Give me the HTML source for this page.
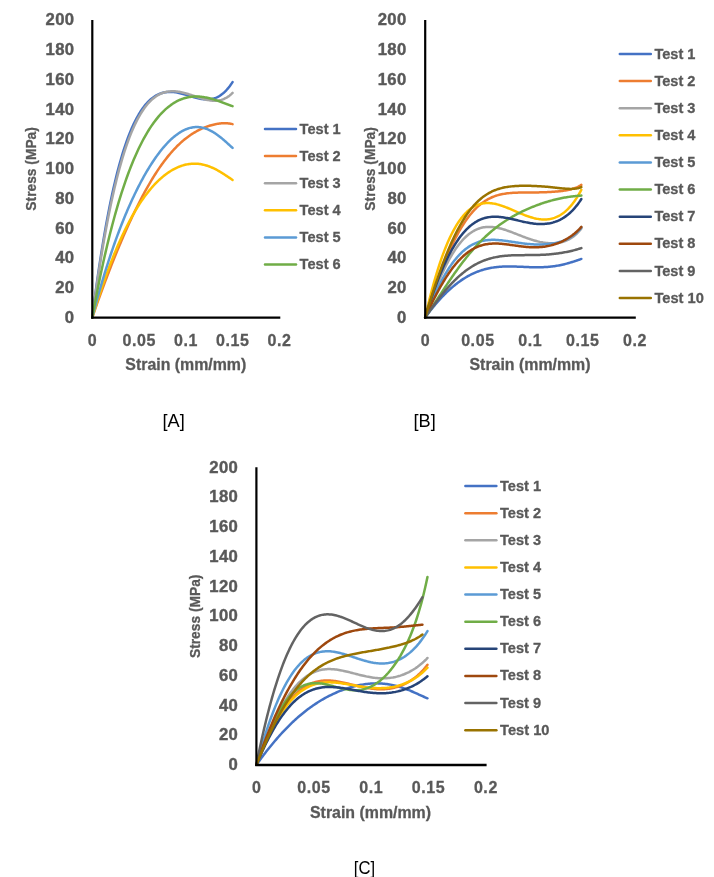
<!DOCTYPE html>
<html><head><meta charset="utf-8"><style>
html,body{margin:0;padding:0;background:#fff;}
svg{display:block;will-change:transform}
text{font-family:"Liberation Sans",sans-serif;fill:#595959;}
.yt{font-size:16.7px;font-weight:bold;letter-spacing:0.35px;stroke:#595959;stroke-width:0.4px;}
.xt{font-size:16px;font-weight:bold;letter-spacing:0.6px;stroke:#595959;stroke-width:0.3px;}
.xl{font-size:16px;font-weight:bold;stroke:#595959;stroke-width:0.3px;}
.yl{font-size:15px;font-weight:bold;stroke:#595959;stroke-width:0.3px;}
.lg{font-size:15.3px;font-weight:bold;stroke:#595959;stroke-width:0.3px;}
.tag{font-size:18.2px;fill:#000;}
</style></head><body>
<svg width="714" height="877" viewBox="0 0 714 877">
<rect width="714" height="877" fill="#fff"/>
<path d="M92.30,317.40 L93.31,309.43 L94.32,301.66 L95.33,294.09 L96.34,286.72 L97.34,279.54 L98.35,272.55 L99.36,265.74 L100.37,259.12 L101.38,252.68 L102.39,246.42 L103.40,240.33 L104.41,234.41 L105.42,228.66 L106.43,223.08 L107.43,217.65 L108.44,212.39 L109.45,207.28 L110.46,202.32 L111.47,197.52 L112.48,192.86 L113.49,188.34 L114.50,183.97 L115.51,179.73 L116.52,175.63 L117.52,171.66 L118.53,167.82 L119.54,164.11 L120.55,160.53 L121.56,157.06 L122.57,153.72 L123.58,150.49 L124.59,147.38 L125.60,144.38 L126.61,141.49 L127.61,138.70 L128.62,136.02 L129.63,133.45 L130.64,130.97 L131.65,128.59 L132.66,126.31 L133.67,124.12 L134.68,122.02 L135.69,120.01 L136.70,118.09 L137.70,116.26 L138.71,114.50 L139.72,112.83 L140.73,111.24 L141.74,109.73 L142.75,108.29 L143.76,106.92 L144.77,105.63 L145.78,104.41 L146.79,103.25 L147.79,102.16 L148.80,101.14 L149.81,100.18 L150.82,99.28 L151.83,98.45 L152.84,97.67 L153.85,96.94 L154.86,96.28 L155.87,95.66 L156.88,95.10 L157.88,94.59 L158.89,94.13 L159.90,93.72 L160.91,93.35 L161.92,93.03 L162.93,92.75 L163.94,92.51 L164.95,92.31 L165.96,92.15 L166.97,92.03 L167.97,91.95 L168.98,91.90 L169.99,91.88 L171.00,91.89 L172.01,91.93 L173.02,92.01 L174.03,92.10 L175.04,92.23 L176.05,92.38 L177.06,92.55 L178.06,92.74 L179.07,92.95 L180.08,93.17 L181.09,93.42 L182.10,93.67 L183.11,93.94 L184.12,94.22 L185.13,94.51 L186.14,94.81 L187.15,95.11 L188.15,95.42 L189.16,95.73 L190.17,96.04 L191.18,96.35 L192.19,96.65 L193.20,96.95 L194.21,97.24 L195.22,97.52 L196.23,97.79 L197.24,98.05 L198.24,98.29 L199.25,98.51 L200.26,98.71 L201.27,98.90 L202.28,99.05 L203.29,99.19 L204.30,99.29 L205.31,99.36 L206.32,99.41 L207.33,99.41 L208.33,99.38 L209.34,99.31 L210.35,99.20 L211.36,99.05 L212.37,98.84 L213.38,98.60 L214.39,98.30 L215.40,97.95 L216.41,97.54 L217.42,97.08 L218.42,96.56 L219.43,95.97 L220.44,95.33 L221.45,94.62 L222.46,93.84 L223.47,93.00 L224.48,92.09 L225.49,91.10 L226.50,90.04 L227.51,88.91 L228.51,87.69 L229.52,86.41 L230.53,85.04 L231.54,83.59 L232.55,82.07" fill="none" stroke="#4472C4" stroke-width="2.5" stroke-linecap="round" stroke-linejoin="round"/>
<path d="M92.30,317.40 L93.31,314.47 L94.32,311.56 L95.33,308.67 L96.34,305.80 L97.34,302.95 L98.35,300.12 L99.36,297.32 L100.37,294.53 L101.38,291.76 L102.39,289.01 L103.40,286.28 L104.41,283.57 L105.42,280.88 L106.43,278.21 L107.43,275.56 L108.44,272.93 L109.45,270.32 L110.46,267.73 L111.47,265.16 L112.48,262.60 L113.49,260.07 L114.50,257.56 L115.51,255.07 L116.52,252.59 L117.52,250.14 L118.53,247.71 L119.54,245.29 L120.55,242.90 L121.56,240.53 L122.57,238.18 L123.58,235.85 L124.59,233.54 L125.60,231.25 L126.61,228.98 L127.61,226.73 L128.62,224.51 L129.63,222.30 L130.64,220.12 L131.65,217.96 L132.66,215.82 L133.67,213.71 L134.68,211.62 L135.69,209.55 L136.70,207.50 L137.70,205.47 L138.71,203.47 L139.72,201.50 L140.73,199.54 L141.74,197.61 L142.75,195.71 L143.76,193.82 L144.77,191.97 L145.78,190.13 L146.79,188.33 L147.79,186.54 L148.80,184.79 L149.81,183.06 L150.82,181.35 L151.83,179.67 L152.84,178.01 L153.85,176.38 L154.86,174.78 L155.87,173.21 L156.88,171.65 L157.88,170.13 L158.89,168.63 L159.90,167.16 L160.91,165.72 L161.92,164.30 L162.93,162.91 L163.94,161.55 L164.95,160.21 L165.96,158.90 L166.97,157.62 L167.97,156.36 L168.98,155.13 L169.99,153.93 L171.00,152.75 L172.01,151.60 L173.02,150.48 L174.03,149.38 L175.04,148.31 L176.05,147.26 L177.06,146.24 L178.06,145.25 L179.07,144.28 L180.08,143.34 L181.09,142.42 L182.10,141.53 L183.11,140.66 L184.12,139.82 L185.13,139.00 L186.14,138.20 L187.15,137.43 L188.15,136.68 L189.16,135.96 L190.17,135.25 L191.18,134.57 L192.19,133.91 L193.20,133.28 L194.21,132.66 L195.22,132.07 L196.23,131.49 L197.24,130.94 L198.24,130.41 L199.25,129.89 L200.26,129.40 L201.27,128.93 L202.28,128.47 L203.29,128.04 L204.30,127.62 L205.31,127.22 L206.32,126.84 L207.33,126.48 L208.33,126.13 L209.34,125.81 L210.35,125.50 L211.36,125.21 L212.37,124.94 L213.38,124.69 L214.39,124.45 L215.40,124.24 L216.41,124.04 L217.42,123.86 L218.42,123.71 L219.43,123.57 L220.44,123.45 L221.45,123.36 L222.46,123.29 L223.47,123.24 L224.48,123.22 L225.49,123.23 L226.50,123.26 L227.51,123.32 L228.51,123.41 L229.52,123.53 L230.53,123.69 L231.54,123.88 L232.55,124.11" fill="none" stroke="#ED7D31" stroke-width="2.5" stroke-linecap="round" stroke-linejoin="round"/>
<path d="M92.30,317.40 L93.31,309.85 L94.32,302.47 L95.33,295.26 L96.34,288.23 L97.34,281.36 L98.35,274.66 L99.36,268.12 L100.37,261.74 L101.38,255.52 L102.39,249.45 L103.40,243.54 L104.41,237.79 L105.42,232.18 L106.43,226.72 L107.43,221.41 L108.44,216.24 L109.45,211.20 L110.46,206.31 L111.47,201.56 L112.48,196.94 L113.49,192.45 L114.50,188.09 L115.51,183.86 L116.52,179.76 L117.52,175.77 L118.53,171.92 L119.54,168.17 L120.55,164.55 L121.56,161.04 L122.57,157.65 L123.58,154.36 L124.59,151.19 L125.60,148.12 L126.61,145.16 L127.61,142.30 L128.62,139.54 L129.63,136.88 L130.64,134.31 L131.65,131.85 L132.66,129.47 L133.67,127.19 L134.68,124.99 L135.69,122.89 L136.70,120.86 L137.70,118.93 L138.71,117.07 L139.72,115.30 L140.73,113.60 L141.74,111.98 L142.75,110.44 L143.76,108.97 L144.77,107.57 L145.78,106.24 L146.79,104.98 L147.79,103.79 L148.80,102.66 L149.81,101.60 L150.82,100.60 L151.83,99.65 L152.84,98.77 L153.85,97.95 L154.86,97.18 L155.87,96.46 L156.88,95.80 L157.88,95.19 L158.89,94.63 L159.90,94.12 L160.91,93.66 L161.92,93.24 L162.93,92.87 L163.94,92.54 L164.95,92.25 L165.96,92.00 L166.97,91.79 L167.97,91.62 L168.98,91.48 L169.99,91.38 L171.00,91.32 L172.01,91.28 L173.02,91.28 L174.03,91.31 L175.04,91.36 L176.05,91.44 L177.06,91.55 L178.06,91.68 L179.07,91.84 L180.08,92.02 L181.09,92.21 L182.10,92.43 L183.11,92.66 L184.12,92.91 L185.13,93.18 L186.14,93.46 L187.15,93.75 L188.15,94.05 L189.16,94.37 L190.17,94.69 L191.18,95.01 L192.19,95.35 L193.20,95.68 L194.21,96.02 L195.22,96.36 L196.23,96.70 L197.24,97.03 L198.24,97.37 L199.25,97.69 L200.26,98.01 L201.27,98.32 L202.28,98.62 L203.29,98.91 L204.30,99.19 L205.31,99.44 L206.32,99.68 L207.33,99.91 L208.33,100.11 L209.34,100.28 L210.35,100.43 L211.36,100.56 L212.37,100.65 L213.38,100.72 L214.39,100.75 L215.40,100.75 L216.41,100.70 L217.42,100.62 L218.42,100.50 L219.43,100.33 L220.44,100.11 L221.45,99.85 L222.46,99.53 L223.47,99.16 L224.48,98.73 L225.49,98.24 L226.50,97.69 L227.51,97.08 L228.51,96.39 L229.52,95.64 L230.53,94.81 L231.54,93.91 L232.55,92.93" fill="none" stroke="#A5A5A5" stroke-width="2.5" stroke-linecap="round" stroke-linejoin="round"/>
<path d="M92.30,317.40 L93.31,314.09 L94.32,310.82 L95.33,307.59 L96.34,304.40 L97.34,301.24 L98.35,298.12 L99.36,295.05 L100.37,292.01 L101.38,289.01 L102.39,286.05 L103.40,283.12 L104.41,280.24 L105.42,277.40 L106.43,274.59 L107.43,271.83 L108.44,269.11 L109.45,266.42 L110.46,263.77 L111.47,261.17 L112.48,258.60 L113.49,256.07 L114.50,253.58 L115.51,251.13 L116.52,248.72 L117.52,246.35 L118.53,244.02 L119.54,241.73 L120.55,239.47 L121.56,237.25 L122.57,235.07 L123.58,232.93 L124.59,230.83 L125.60,228.77 L126.61,226.74 L127.61,224.75 L128.62,222.79 L129.63,220.88 L130.64,219.00 L131.65,217.16 L132.66,215.35 L133.67,213.58 L134.68,211.84 L135.69,210.14 L136.70,208.48 L137.70,206.85 L138.71,205.25 L139.72,203.69 L140.73,202.16 L141.74,200.67 L142.75,199.21 L143.76,197.78 L144.77,196.39 L145.78,195.03 L146.79,193.70 L147.79,192.40 L148.80,191.13 L149.81,189.90 L150.82,188.70 L151.83,187.52 L152.84,186.38 L153.85,185.27 L154.86,184.19 L155.87,183.14 L156.88,182.12 L157.88,181.12 L158.89,180.16 L159.90,179.23 L160.91,178.32 L161.92,177.44 L162.93,176.60 L163.94,175.78 L164.95,174.98 L165.96,174.22 L166.97,173.48 L167.97,172.77 L168.98,172.09 L169.99,171.43 L171.00,170.80 L172.01,170.20 L173.02,169.63 L174.03,169.08 L175.04,168.56 L176.05,168.06 L177.06,167.59 L178.06,167.15 L179.07,166.74 L180.08,166.35 L181.09,165.98 L182.10,165.65 L183.11,165.34 L184.12,165.05 L185.13,164.80 L186.14,164.57 L187.15,164.36 L188.15,164.18 L189.16,164.03 L190.17,163.90 L191.18,163.80 L192.19,163.73 L193.20,163.68 L194.21,163.66 L195.22,163.67 L196.23,163.70 L197.24,163.76 L198.24,163.84 L199.25,163.96 L200.26,164.09 L201.27,164.26 L202.28,164.45 L203.29,164.66 L204.30,164.90 L205.31,165.17 L206.32,165.46 L207.33,165.78 L208.33,166.12 L209.34,166.49 L210.35,166.88 L211.36,167.29 L212.37,167.73 L213.38,168.19 L214.39,168.67 L215.40,169.17 L216.41,169.70 L217.42,170.24 L218.42,170.80 L219.43,171.38 L220.44,171.98 L221.45,172.60 L222.46,173.22 L223.47,173.86 L224.48,174.52 L225.49,175.18 L226.50,175.85 L227.51,176.53 L228.51,177.21 L229.52,177.90 L230.53,178.58 L231.54,179.27 L232.55,179.94" fill="none" stroke="#FFC000" stroke-width="2.5" stroke-linecap="round" stroke-linejoin="round"/>
<path d="M92.30,317.40 L93.31,313.51 L94.32,309.68 L95.33,305.89 L96.34,302.17 L97.34,298.49 L98.35,294.87 L99.36,291.30 L100.37,287.78 L101.38,284.31 L102.39,280.89 L103.40,277.52 L104.41,274.20 L105.42,270.92 L106.43,267.69 L107.43,264.51 L108.44,261.38 L109.45,258.29 L110.46,255.24 L111.47,252.24 L112.48,249.29 L113.49,246.38 L114.50,243.50 L115.51,240.68 L116.52,237.89 L117.52,235.14 L118.53,232.44 L119.54,229.77 L120.55,227.15 L121.56,224.56 L122.57,222.01 L123.58,219.50 L124.59,217.03 L125.60,214.60 L126.61,212.20 L127.61,209.84 L128.62,207.51 L129.63,205.22 L130.64,202.96 L131.65,200.74 L132.66,198.56 L133.67,196.41 L134.68,194.29 L135.69,192.21 L136.70,190.16 L137.70,188.14 L138.71,186.16 L139.72,184.20 L140.73,182.29 L141.74,180.40 L142.75,178.54 L143.76,176.72 L144.77,174.93 L145.78,173.17 L146.79,171.44 L147.79,169.75 L148.80,168.08 L149.81,166.45 L150.82,164.85 L151.83,163.27 L152.84,161.73 L153.85,160.23 L154.86,158.75 L155.87,157.30 L156.88,155.89 L157.88,154.50 L158.89,153.15 L159.90,151.83 L160.91,150.54 L161.92,149.29 L162.93,148.06 L163.94,146.87 L164.95,145.71 L165.96,144.58 L166.97,143.49 L167.97,142.42 L168.98,141.40 L169.99,140.40 L171.00,139.44 L172.01,138.51 L173.02,137.62 L174.03,136.76 L175.04,135.93 L176.05,135.14 L177.06,134.39 L178.06,133.67 L179.07,132.98 L180.08,132.34 L181.09,131.72 L182.10,131.15 L183.11,130.61 L184.12,130.11 L185.13,129.65 L186.14,129.22 L187.15,128.83 L188.15,128.48 L189.16,128.17 L190.17,127.89 L191.18,127.66 L192.19,127.46 L193.20,127.30 L194.21,127.18 L195.22,127.10 L196.23,127.06 L197.24,127.06 L198.24,127.10 L199.25,127.18 L200.26,127.29 L201.27,127.44 L202.28,127.64 L203.29,127.87 L204.30,128.14 L205.31,128.45 L206.32,128.79 L207.33,129.17 L208.33,129.59 L209.34,130.05 L210.35,130.54 L211.36,131.06 L212.37,131.62 L213.38,132.22 L214.39,132.84 L215.40,133.50 L216.41,134.18 L217.42,134.90 L218.42,135.64 L219.43,136.41 L220.44,137.21 L221.45,138.02 L222.46,138.86 L223.47,139.72 L224.48,140.60 L225.49,141.49 L226.50,142.39 L227.51,143.31 L228.51,144.23 L229.52,145.16 L230.53,146.09 L231.54,147.02 L232.55,147.95" fill="none" stroke="#5B9BD5" stroke-width="2.5" stroke-linecap="round" stroke-linejoin="round"/>
<path d="M92.30,317.40 L93.31,311.88 L94.32,306.45 L95.33,301.12 L96.34,295.88 L97.34,290.74 L98.35,285.69 L99.36,280.74 L100.37,275.87 L101.38,271.10 L102.39,266.41 L103.40,261.82 L104.41,257.31 L105.42,252.88 L106.43,248.54 L107.43,244.29 L108.44,240.12 L109.45,236.02 L110.46,232.02 L111.47,228.09 L112.48,224.23 L113.49,220.46 L114.50,216.76 L115.51,213.14 L116.52,209.60 L117.52,206.12 L118.53,202.72 L119.54,199.40 L120.55,196.14 L121.56,192.95 L122.57,189.83 L123.58,186.78 L124.59,183.80 L125.60,180.88 L126.61,178.03 L127.61,175.24 L128.62,172.52 L129.63,169.86 L130.64,167.25 L131.65,164.71 L132.66,162.23 L133.67,159.81 L134.68,157.45 L135.69,155.15 L136.70,152.90 L137.70,150.70 L138.71,148.56 L139.72,146.48 L140.73,144.45 L141.74,142.47 L142.75,140.54 L143.76,138.67 L144.77,136.84 L145.78,135.06 L146.79,133.34 L147.79,131.66 L148.80,130.03 L149.81,128.44 L150.82,126.90 L151.83,125.41 L152.84,123.96 L153.85,122.56 L154.86,121.20 L155.87,119.88 L156.88,118.61 L157.88,117.37 L158.89,116.18 L159.90,115.03 L160.91,113.92 L161.92,112.85 L162.93,111.82 L163.94,110.82 L164.95,109.87 L165.96,108.95 L166.97,108.07 L167.97,107.22 L168.98,106.41 L169.99,105.64 L171.00,104.90 L172.01,104.20 L173.02,103.53 L174.03,102.89 L175.04,102.29 L176.05,101.72 L177.06,101.18 L178.06,100.67 L179.07,100.20 L180.08,99.75 L181.09,99.34 L182.10,98.96 L183.11,98.60 L184.12,98.28 L185.13,97.98 L186.14,97.71 L187.15,97.47 L188.15,97.26 L189.16,97.08 L190.17,96.92 L191.18,96.78 L192.19,96.68 L193.20,96.59 L194.21,96.54 L195.22,96.50 L196.23,96.49 L197.24,96.50 L198.24,96.54 L199.25,96.60 L200.26,96.67 L201.27,96.77 L202.28,96.89 L203.29,97.03 L204.30,97.19 L205.31,97.37 L206.32,97.56 L207.33,97.77 L208.33,98.00 L209.34,98.25 L210.35,98.50 L211.36,98.78 L212.37,99.06 L213.38,99.36 L214.39,99.67 L215.40,100.00 L216.41,100.33 L217.42,100.67 L218.42,101.02 L219.43,101.37 L220.44,101.74 L221.45,102.10 L222.46,102.48 L223.47,102.85 L224.48,103.23 L225.49,103.60 L226.50,103.98 L227.51,104.36 L228.51,104.73 L229.52,105.09 L230.53,105.45 L231.54,105.81 L232.55,106.15" fill="none" stroke="#70AD47" stroke-width="2.5" stroke-linecap="round" stroke-linejoin="round"/>
<line x1="92.3" y1="19.899999999999977" x2="92.3" y2="318.5" stroke="#000" stroke-width="2.2"/>
<line x1="91.2" y1="317.65" x2="280.3" y2="317.65" stroke="#000" stroke-width="2.4"/>
<text x="74.45" y="322.75" text-anchor="end" class="yt">0</text>
<text x="74.45" y="293.00" text-anchor="end" class="yt">20</text>
<text x="74.45" y="263.25" text-anchor="end" class="yt">40</text>
<text x="74.45" y="233.50" text-anchor="end" class="yt">60</text>
<text x="74.45" y="203.75" text-anchor="end" class="yt">80</text>
<text x="74.45" y="174.00" text-anchor="end" class="yt">100</text>
<text x="74.45" y="144.25" text-anchor="end" class="yt">120</text>
<text x="74.45" y="114.50" text-anchor="end" class="yt">140</text>
<text x="74.45" y="84.75" text-anchor="end" class="yt">160</text>
<text x="74.45" y="55.00" text-anchor="end" class="yt">180</text>
<text x="74.45" y="25.25" text-anchor="end" class="yt">200</text>
<text x="92.60" y="345.50" text-anchor="middle" class="xt">0</text>
<text x="139.35" y="345.50" text-anchor="middle" class="xt">0.05</text>
<text x="186.10" y="345.50" text-anchor="middle" class="xt">0.1</text>
<text x="232.85" y="345.50" text-anchor="middle" class="xt">0.15</text>
<text x="279.60" y="345.50" text-anchor="middle" class="xt">0.2</text>
<text x="185.80" y="370.40" text-anchor="middle" class="xl" textLength="121" lengthAdjust="spacingAndGlyphs">Strain (mm/mm)</text>
<text transform="translate(36.0,168.89999999999998) rotate(-90)" text-anchor="middle" class="yl" textLength="83.5" lengthAdjust="spacingAndGlyphs">Stress (MPa)</text>
<text x="173.7" y="426.80" text-anchor="middle" class="tag">[A]</text>
<line x1="265" y1="129.00" x2="296" y2="129.00" stroke="#4472C4" stroke-width="2.5" stroke-linecap="round"/>
<text x="299.6" y="133.55" class="lg" textLength="41.1" lengthAdjust="spacingAndGlyphs">Test 1</text>
<line x1="265" y1="156.12" x2="296" y2="156.12" stroke="#ED7D31" stroke-width="2.5" stroke-linecap="round"/>
<text x="299.6" y="160.67" class="lg" textLength="41.1" lengthAdjust="spacingAndGlyphs">Test 2</text>
<line x1="265" y1="183.24" x2="296" y2="183.24" stroke="#A5A5A5" stroke-width="2.5" stroke-linecap="round"/>
<text x="299.6" y="187.79" class="lg" textLength="41.1" lengthAdjust="spacingAndGlyphs">Test 3</text>
<line x1="265" y1="210.36" x2="296" y2="210.36" stroke="#FFC000" stroke-width="2.5" stroke-linecap="round"/>
<text x="299.6" y="214.91" class="lg" textLength="41.1" lengthAdjust="spacingAndGlyphs">Test 4</text>
<line x1="265" y1="237.48" x2="296" y2="237.48" stroke="#5B9BD5" stroke-width="2.5" stroke-linecap="round"/>
<text x="299.6" y="242.03" class="lg" textLength="41.1" lengthAdjust="spacingAndGlyphs">Test 5</text>
<line x1="265" y1="264.60" x2="296" y2="264.60" stroke="#70AD47" stroke-width="2.5" stroke-linecap="round"/>
<text x="299.6" y="269.15" class="lg" textLength="41.1" lengthAdjust="spacingAndGlyphs">Test 6</text>
<path d="M425.20,317.40 L426.32,315.88 L427.45,314.39 L428.57,312.92 L429.69,311.46 L430.82,310.04 L431.94,308.63 L433.06,307.24 L434.19,305.88 L435.31,304.55 L436.43,303.23 L437.56,301.94 L438.68,300.67 L439.80,299.43 L440.93,298.20 L442.05,297.01 L443.17,295.84 L444.30,294.69 L445.42,293.56 L446.54,292.46 L447.67,291.39 L448.79,290.33 L449.91,289.31 L451.04,288.31 L452.16,287.33 L453.28,286.37 L454.41,285.45 L455.53,284.54 L456.65,283.66 L457.78,282.81 L458.90,281.98 L460.02,281.17 L461.15,280.39 L462.27,279.63 L463.39,278.90 L464.52,278.19 L465.64,277.50 L466.77,276.84 L467.89,276.21 L469.01,275.59 L470.14,275.00 L471.26,274.43 L472.38,273.89 L473.51,273.36 L474.63,272.86 L475.75,272.38 L476.88,271.93 L478.00,271.49 L479.12,271.08 L480.25,270.69 L481.37,270.31 L482.49,269.96 L483.62,269.63 L484.74,269.32 L485.86,269.02 L486.99,268.75 L488.11,268.49 L489.23,268.25 L490.36,268.03 L491.48,267.83 L492.60,267.64 L493.73,267.47 L494.85,267.31 L495.97,267.17 L497.10,267.05 L498.22,266.93 L499.34,266.84 L500.47,266.75 L501.59,266.68 L502.71,266.62 L503.84,266.57 L504.96,266.53 L506.08,266.50 L507.21,266.48 L508.33,266.47 L509.45,266.47 L510.58,266.47 L511.70,266.48 L512.82,266.50 L513.95,266.53 L515.07,266.56 L516.19,266.59 L517.32,266.63 L518.44,266.68 L519.56,266.72 L520.69,266.77 L521.81,266.82 L522.93,266.86 L524.06,266.91 L525.18,266.96 L526.30,267.01 L527.43,267.05 L528.55,267.10 L529.67,267.14 L530.80,267.17 L531.92,267.21 L533.04,267.23 L534.17,267.26 L535.29,267.27 L536.41,267.28 L537.54,267.28 L538.66,267.28 L539.78,267.26 L540.91,267.24 L542.03,267.21 L543.16,267.17 L544.28,267.12 L545.40,267.06 L546.53,266.98 L547.65,266.90 L548.77,266.81 L549.90,266.70 L551.02,266.58 L552.14,266.45 L553.27,266.31 L554.39,266.15 L555.51,265.98 L556.64,265.80 L557.76,265.61 L558.88,265.40 L560.01,265.18 L561.13,264.94 L562.25,264.70 L563.38,264.44 L564.50,264.17 L565.62,263.89 L566.75,263.59 L567.87,263.28 L568.99,262.97 L570.12,262.64 L571.24,262.30 L572.36,261.95 L573.49,261.60 L574.61,261.23 L575.73,260.86 L576.86,260.49 L577.98,260.11 L579.10,259.72 L580.23,259.33 L581.35,258.94" fill="none" stroke="#4472C4" stroke-width="2.5" stroke-linecap="round" stroke-linejoin="round"/>
<path d="M425.20,317.40 L426.32,313.86 L427.45,310.36 L428.57,306.89 L429.69,303.46 L430.82,300.06 L431.94,296.71 L433.06,293.39 L434.19,290.12 L435.31,286.90 L436.43,283.72 L437.56,280.59 L438.68,277.51 L439.80,274.48 L440.93,271.51 L442.05,268.59 L443.17,265.72 L444.30,262.91 L445.42,260.16 L446.54,257.46 L447.67,254.82 L448.79,252.24 L449.91,249.72 L451.04,247.26 L452.16,244.87 L453.28,242.53 L454.41,240.25 L455.53,238.04 L456.65,235.89 L457.78,233.80 L458.90,231.77 L460.02,229.80 L461.15,227.90 L462.27,226.05 L463.39,224.27 L464.52,222.55 L465.64,220.89 L466.77,219.29 L467.89,217.75 L469.01,216.26 L470.14,214.84 L471.26,213.47 L472.38,212.16 L473.51,210.90 L474.63,209.70 L475.75,208.55 L476.88,207.46 L478.00,206.42 L479.12,205.42 L480.25,204.48 L481.37,203.59 L482.49,202.74 L483.62,201.94 L484.74,201.18 L485.86,200.47 L486.99,199.80 L488.11,199.17 L489.23,198.57 L490.36,198.02 L491.48,197.51 L492.60,197.02 L493.73,196.58 L494.85,196.16 L495.97,195.78 L497.10,195.43 L498.22,195.10 L499.34,194.80 L500.47,194.53 L501.59,194.28 L502.71,194.06 L503.84,193.86 L504.96,193.67 L506.08,193.51 L507.21,193.36 L508.33,193.23 L509.45,193.12 L510.58,193.02 L511.70,192.93 L512.82,192.85 L513.95,192.79 L515.07,192.73 L516.19,192.68 L517.32,192.64 L518.44,192.61 L519.56,192.59 L520.69,192.56 L521.81,192.55 L522.93,192.53 L524.06,192.52 L525.18,192.51 L526.30,192.50 L527.43,192.50 L528.55,192.49 L529.67,192.48 L530.80,192.48 L531.92,192.47 L533.04,192.46 L534.17,192.45 L535.29,192.43 L536.41,192.42 L537.54,192.40 L538.66,192.38 L539.78,192.35 L540.91,192.33 L542.03,192.30 L543.16,192.26 L544.28,192.22 L545.40,192.18 L546.53,192.14 L547.65,192.09 L548.77,192.03 L549.90,191.97 L551.02,191.91 L552.14,191.84 L553.27,191.77 L554.39,191.69 L555.51,191.60 L556.64,191.51 L557.76,191.41 L558.88,191.30 L560.01,191.18 L561.13,191.05 L562.25,190.92 L563.38,190.76 L564.50,190.60 L565.62,190.42 L566.75,190.22 L567.87,190.01 L568.99,189.77 L570.12,189.51 L571.24,189.22 L572.36,188.91 L573.49,188.56 L574.61,188.17 L575.73,187.75 L576.86,187.28 L577.98,186.76 L579.10,186.19 L580.23,185.55 L581.35,184.86" fill="none" stroke="#ED7D31" stroke-width="2.5" stroke-linecap="round" stroke-linejoin="round"/>
<path d="M425.20,317.40 L426.32,314.10 L427.45,310.86 L428.57,307.66 L429.69,304.52 L430.82,301.43 L431.94,298.40 L433.06,295.42 L434.19,292.50 L435.31,289.64 L436.43,286.84 L437.56,284.10 L438.68,281.43 L439.80,278.81 L440.93,276.26 L442.05,273.78 L443.17,271.36 L444.30,269.01 L445.42,266.72 L446.54,264.50 L447.67,262.34 L448.79,260.26 L449.91,258.24 L451.04,256.28 L452.16,254.40 L453.28,252.58 L454.41,250.83 L455.53,249.15 L456.65,247.54 L457.78,245.99 L458.90,244.51 L460.02,243.10 L461.15,241.75 L462.27,240.46 L463.39,239.24 L464.52,238.09 L465.64,237.00 L466.77,235.97 L467.89,235.00 L469.01,234.09 L470.14,233.25 L471.26,232.46 L472.38,231.73 L473.51,231.05 L474.63,230.43 L475.75,229.87 L476.88,229.36 L478.00,228.90 L479.12,228.49 L480.25,228.13 L481.37,227.82 L482.49,227.56 L483.62,227.34 L484.74,227.17 L485.86,227.04 L486.99,226.94 L488.11,226.89 L489.23,226.88 L490.36,226.90 L491.48,226.96 L492.60,227.05 L493.73,227.17 L494.85,227.32 L495.97,227.51 L497.10,227.71 L498.22,227.95 L499.34,228.21 L500.47,228.49 L501.59,228.79 L502.71,229.11 L503.84,229.45 L504.96,229.80 L506.08,230.17 L507.21,230.56 L508.33,230.95 L509.45,231.36 L510.58,231.78 L511.70,232.20 L512.82,232.63 L513.95,233.06 L515.07,233.50 L516.19,233.94 L517.32,234.39 L518.44,234.83 L519.56,235.27 L520.69,235.71 L521.81,236.15 L522.93,236.58 L524.06,237.00 L525.18,237.42 L526.30,237.83 L527.43,238.24 L528.55,238.63 L529.67,239.02 L530.80,239.39 L531.92,239.75 L533.04,240.10 L534.17,240.43 L535.29,240.75 L536.41,241.05 L537.54,241.34 L538.66,241.61 L539.78,241.87 L540.91,242.10 L542.03,242.32 L543.16,242.52 L544.28,242.69 L545.40,242.85 L546.53,242.98 L547.65,243.09 L548.77,243.18 L549.90,243.24 L551.02,243.28 L552.14,243.29 L553.27,243.27 L554.39,243.22 L555.51,243.15 L556.64,243.04 L557.76,242.90 L558.88,242.73 L560.01,242.52 L561.13,242.27 L562.25,241.99 L563.38,241.66 L564.50,241.29 L565.62,240.88 L566.75,240.41 L567.87,239.90 L568.99,239.33 L570.12,238.71 L571.24,238.02 L572.36,237.27 L573.49,236.46 L574.61,235.57 L575.73,234.60 L576.86,233.55 L577.98,232.42 L579.10,231.19 L580.23,229.87 L581.35,228.43" fill="none" stroke="#A5A5A5" stroke-width="2.5" stroke-linecap="round" stroke-linejoin="round"/>
<path d="M425.20,317.40 L426.32,312.49 L427.45,307.71 L428.57,303.06 L429.69,298.54 L430.82,294.14 L431.94,289.88 L433.06,285.73 L434.19,281.71 L435.31,277.81 L436.43,274.04 L437.56,270.38 L438.68,266.84 L439.80,263.41 L440.93,260.10 L442.05,256.91 L443.17,253.82 L444.30,250.85 L445.42,247.98 L446.54,245.22 L447.67,242.57 L448.79,240.02 L449.91,237.58 L451.04,235.23 L452.16,232.98 L453.28,230.84 L454.41,228.78 L455.53,226.82 L456.65,224.96 L457.78,223.18 L458.90,221.50 L460.02,219.90 L461.15,218.38 L462.27,216.95 L463.39,215.61 L464.52,214.34 L465.64,213.15 L466.77,212.04 L467.89,211.00 L469.01,210.04 L470.14,209.14 L471.26,208.32 L472.38,207.57 L473.51,206.88 L474.63,206.25 L475.75,205.69 L476.88,205.18 L478.00,204.74 L479.12,204.35 L480.25,204.02 L481.37,203.74 L482.49,203.51 L483.62,203.33 L484.74,203.20 L485.86,203.11 L486.99,203.07 L488.11,203.07 L489.23,203.11 L490.36,203.19 L491.48,203.30 L492.60,203.45 L493.73,203.63 L494.85,203.85 L495.97,204.09 L497.10,204.36 L498.22,204.66 L499.34,204.98 L500.47,205.33 L501.59,205.69 L502.71,206.08 L503.84,206.48 L504.96,206.90 L506.08,207.33 L507.21,207.77 L508.33,208.23 L509.45,208.69 L510.58,209.17 L511.70,209.64 L512.82,210.13 L513.95,210.61 L515.07,211.10 L516.19,211.59 L517.32,212.07 L518.44,212.56 L519.56,213.03 L520.69,213.50 L521.81,213.97 L522.93,214.42 L524.06,214.87 L525.18,215.30 L526.30,215.72 L527.43,216.12 L528.55,216.51 L529.67,216.88 L530.80,217.23 L531.92,217.56 L533.04,217.87 L534.17,218.16 L535.29,218.42 L536.41,218.66 L537.54,218.86 L538.66,219.05 L539.78,219.20 L540.91,219.32 L542.03,219.40 L543.16,219.46 L544.28,219.47 L545.40,219.46 L546.53,219.40 L547.65,219.30 L548.77,219.17 L549.90,218.99 L551.02,218.77 L552.14,218.50 L553.27,218.18 L554.39,217.82 L555.51,217.41 L556.64,216.95 L557.76,216.43 L558.88,215.86 L560.01,215.23 L561.13,214.54 L562.25,213.80 L563.38,212.99 L564.50,212.11 L565.62,211.17 L566.75,210.17 L567.87,209.09 L568.99,207.94 L570.12,206.72 L571.24,205.41 L572.36,204.03 L573.49,202.57 L574.61,201.02 L575.73,199.38 L576.86,197.65 L577.98,195.82 L579.10,193.90 L580.23,191.88 L581.35,189.75" fill="none" stroke="#FFC000" stroke-width="2.5" stroke-linecap="round" stroke-linejoin="round"/>
<path d="M425.20,317.40 L426.32,314.53 L427.45,311.70 L428.57,308.93 L429.69,306.21 L430.82,303.54 L431.94,300.92 L433.06,298.36 L434.19,295.85 L435.31,293.40 L436.43,291.00 L437.56,288.66 L438.68,286.38 L439.80,284.15 L440.93,281.99 L442.05,279.88 L443.17,277.83 L444.30,275.84 L445.42,273.91 L446.54,272.04 L447.67,270.22 L448.79,268.47 L449.91,266.78 L451.04,265.14 L452.16,263.57 L453.28,262.05 L454.41,260.59 L455.53,259.19 L456.65,257.84 L457.78,256.55 L458.90,255.32 L460.02,254.15 L461.15,253.02 L462.27,251.96 L463.39,250.94 L464.52,249.98 L465.64,249.07 L466.77,248.21 L467.89,247.40 L469.01,246.64 L470.14,245.93 L471.26,245.26 L472.38,244.64 L473.51,244.06 L474.63,243.53 L475.75,243.04 L476.88,242.58 L478.00,242.17 L479.12,241.80 L480.25,241.46 L481.37,241.17 L482.49,240.90 L483.62,240.67 L484.74,240.47 L485.86,240.30 L486.99,240.16 L488.11,240.04 L489.23,239.96 L490.36,239.90 L491.48,239.86 L492.60,239.84 L493.73,239.85 L494.85,239.87 L495.97,239.92 L497.10,239.98 L498.22,240.05 L499.34,240.14 L500.47,240.25 L501.59,240.36 L502.71,240.49 L503.84,240.62 L504.96,240.77 L506.08,240.92 L507.21,241.08 L508.33,241.24 L509.45,241.41 L510.58,241.58 L511.70,241.75 L512.82,241.92 L513.95,242.09 L515.07,242.27 L516.19,242.44 L517.32,242.60 L518.44,242.77 L519.56,242.93 L520.69,243.08 L521.81,243.24 L522.93,243.38 L524.06,243.52 L525.18,243.65 L526.30,243.77 L527.43,243.89 L528.55,243.99 L529.67,244.09 L530.80,244.18 L531.92,244.26 L533.04,244.32 L534.17,244.38 L535.29,244.42 L536.41,244.46 L537.54,244.48 L538.66,244.49 L539.78,244.49 L540.91,244.48 L542.03,244.45 L543.16,244.41 L544.28,244.35 L545.40,244.28 L546.53,244.20 L547.65,244.10 L548.77,243.99 L549.90,243.86 L551.02,243.71 L552.14,243.55 L553.27,243.37 L554.39,243.16 L555.51,242.94 L556.64,242.70 L557.76,242.43 L558.88,242.14 L560.01,241.83 L561.13,241.49 L562.25,241.12 L563.38,240.71 L564.50,240.28 L565.62,239.81 L566.75,239.30 L567.87,238.75 L568.99,238.16 L570.12,237.52 L571.24,236.83 L572.36,236.08 L573.49,235.28 L574.61,234.41 L575.73,233.47 L576.86,232.46 L577.98,231.36 L579.10,230.19 L580.23,228.91 L581.35,227.54" fill="none" stroke="#5B9BD5" stroke-width="2.5" stroke-linecap="round" stroke-linejoin="round"/>
<path d="M425.20,317.40 L426.32,315.75 L427.45,314.08 L428.57,312.40 L429.69,310.71 L430.82,309.02 L431.94,307.31 L433.06,305.60 L434.19,303.89 L435.31,302.17 L436.43,300.45 L437.56,298.73 L438.68,297.01 L439.80,295.29 L440.93,293.58 L442.05,291.87 L443.17,290.16 L444.30,288.46 L445.42,286.77 L446.54,285.08 L447.67,283.41 L448.79,281.74 L449.91,280.09 L451.04,278.44 L452.16,276.81 L453.28,275.20 L454.41,273.59 L455.53,272.01 L456.65,270.43 L457.78,268.88 L458.90,267.34 L460.02,265.82 L461.15,264.31 L462.27,262.82 L463.39,261.36 L464.52,259.91 L465.64,258.48 L466.77,257.07 L467.89,255.68 L469.01,254.31 L470.14,252.96 L471.26,251.63 L472.38,250.32 L473.51,249.03 L474.63,247.76 L475.75,246.52 L476.88,245.30 L478.00,244.09 L479.12,242.91 L480.25,241.75 L481.37,240.61 L482.49,239.49 L483.62,238.40 L484.74,237.32 L485.86,236.26 L486.99,235.23 L488.11,234.21 L489.23,233.22 L490.36,232.24 L491.48,231.29 L492.60,230.35 L493.73,229.43 L494.85,228.54 L495.97,227.66 L497.10,226.79 L498.22,225.95 L499.34,225.12 L500.47,224.31 L501.59,223.52 L502.71,222.74 L503.84,221.98 L504.96,221.24 L506.08,220.51 L507.21,219.79 L508.33,219.09 L509.45,218.41 L510.58,217.73 L511.70,217.08 L512.82,216.43 L513.95,215.80 L515.07,215.18 L516.19,214.57 L517.32,213.98 L518.44,213.39 L519.56,212.82 L520.69,212.26 L521.81,211.71 L522.93,211.17 L524.06,210.64 L525.18,210.12 L526.30,209.61 L527.43,209.11 L528.55,208.62 L529.67,208.13 L530.80,207.66 L531.92,207.20 L533.04,206.74 L534.17,206.30 L535.29,205.86 L536.41,205.43 L537.54,205.01 L538.66,204.60 L539.78,204.20 L540.91,203.80 L542.03,203.42 L543.16,203.04 L544.28,202.67 L545.40,202.31 L546.53,201.96 L547.65,201.62 L548.77,201.28 L549.90,200.96 L551.02,200.64 L552.14,200.34 L553.27,200.04 L554.39,199.75 L555.51,199.47 L556.64,199.20 L557.76,198.94 L558.88,198.70 L560.01,198.46 L561.13,198.23 L562.25,198.00 L563.38,197.79 L564.50,197.59 L565.62,197.40 L566.75,197.22 L567.87,197.05 L568.99,196.88 L570.12,196.73 L571.24,196.58 L572.36,196.45 L573.49,196.32 L574.61,196.19 L575.73,196.08 L576.86,195.97 L577.98,195.87 L579.10,195.77 L580.23,195.67 L581.35,195.57" fill="none" stroke="#70AD47" stroke-width="2.5" stroke-linecap="round" stroke-linejoin="round"/>
<path d="M425.20,317.40 L426.32,313.74 L427.45,310.15 L428.57,306.63 L429.69,303.18 L430.82,299.79 L431.94,296.48 L433.06,293.25 L434.19,290.08 L435.31,286.98 L436.43,283.96 L437.56,281.01 L438.68,278.13 L439.80,275.33 L440.93,272.59 L442.05,269.93 L443.17,267.34 L444.30,264.83 L445.42,262.38 L446.54,260.01 L447.67,257.71 L448.79,255.48 L449.91,253.33 L451.04,251.24 L452.16,249.22 L453.28,247.28 L454.41,245.40 L455.53,243.59 L456.65,241.86 L457.78,240.18 L458.90,238.58 L460.02,237.04 L461.15,235.57 L462.27,234.16 L463.39,232.82 L464.52,231.53 L465.64,230.31 L466.77,229.16 L467.89,228.06 L469.01,227.02 L470.14,226.04 L471.26,225.12 L472.38,224.25 L473.51,223.44 L474.63,222.68 L475.75,221.97 L476.88,221.31 L478.00,220.71 L479.12,220.15 L480.25,219.64 L481.37,219.18 L482.49,218.76 L483.62,218.39 L484.74,218.06 L485.86,217.76 L486.99,217.51 L488.11,217.30 L489.23,217.12 L490.36,216.98 L491.48,216.87 L492.60,216.79 L493.73,216.75 L494.85,216.73 L495.97,216.74 L497.10,216.78 L498.22,216.84 L499.34,216.93 L500.47,217.04 L501.59,217.17 L502.71,217.32 L503.84,217.48 L504.96,217.67 L506.08,217.86 L507.21,218.07 L508.33,218.30 L509.45,218.53 L510.58,218.77 L511.70,219.02 L512.82,219.28 L513.95,219.54 L515.07,219.81 L516.19,220.08 L517.32,220.34 L518.44,220.61 L519.56,220.88 L520.69,221.14 L521.81,221.40 L522.93,221.66 L524.06,221.91 L525.18,222.15 L526.30,222.38 L527.43,222.60 L528.55,222.81 L529.67,223.01 L530.80,223.19 L531.92,223.36 L533.04,223.52 L534.17,223.66 L535.29,223.77 L536.41,223.88 L537.54,223.96 L538.66,224.02 L539.78,224.05 L540.91,224.07 L542.03,224.06 L543.16,224.02 L544.28,223.96 L545.40,223.87 L546.53,223.76 L547.65,223.61 L548.77,223.44 L549.90,223.23 L551.02,222.99 L552.14,222.72 L553.27,222.41 L554.39,222.07 L555.51,221.69 L556.64,221.27 L557.76,220.81 L558.88,220.31 L560.01,219.77 L561.13,219.18 L562.25,218.55 L563.38,217.87 L564.50,217.15 L565.62,216.37 L566.75,215.54 L567.87,214.66 L568.99,213.72 L570.12,212.72 L571.24,211.67 L572.36,210.55 L573.49,209.36 L574.61,208.11 L575.73,206.78 L576.86,205.39 L577.98,203.91 L579.10,202.36 L580.23,200.72 L581.35,198.99" fill="none" stroke="#264478" stroke-width="2.5" stroke-linecap="round" stroke-linejoin="round"/>
<path d="M425.20,317.40 L426.32,314.93 L427.45,312.49 L428.57,310.08 L429.69,307.71 L430.82,305.36 L431.94,303.06 L433.06,300.78 L434.19,298.55 L435.31,296.35 L436.43,294.19 L437.56,292.07 L438.68,289.99 L439.80,287.96 L440.93,285.97 L442.05,284.02 L443.17,282.12 L444.30,280.26 L445.42,278.45 L446.54,276.69 L447.67,274.97 L448.79,273.30 L449.91,271.68 L451.04,270.11 L452.16,268.58 L453.28,267.11 L454.41,265.68 L455.53,264.30 L456.65,262.98 L457.78,261.70 L458.90,260.46 L460.02,259.28 L461.15,258.15 L462.27,257.06 L463.39,256.02 L464.52,255.03 L465.64,254.09 L466.77,253.19 L467.89,252.34 L469.01,251.53 L470.14,250.77 L471.26,250.05 L472.38,249.38 L473.51,248.75 L474.63,248.16 L475.75,247.61 L476.88,247.10 L478.00,246.63 L479.12,246.19 L480.25,245.80 L481.37,245.44 L482.49,245.12 L483.62,244.83 L484.74,244.57 L485.86,244.34 L486.99,244.15 L488.11,243.98 L489.23,243.84 L490.36,243.73 L491.48,243.65 L492.60,243.59 L493.73,243.55 L494.85,243.53 L495.97,243.54 L497.10,243.56 L498.22,243.60 L499.34,243.66 L500.47,243.74 L501.59,243.83 L502.71,243.93 L503.84,244.04 L504.96,244.16 L506.08,244.30 L507.21,244.44 L508.33,244.58 L509.45,244.74 L510.58,244.89 L511.70,245.05 L512.82,245.22 L513.95,245.38 L515.07,245.54 L516.19,245.70 L517.32,245.86 L518.44,246.02 L519.56,246.17 L520.69,246.31 L521.81,246.45 L522.93,246.58 L524.06,246.70 L525.18,246.82 L526.30,246.92 L527.43,247.01 L528.55,247.10 L529.67,247.16 L530.80,247.22 L531.92,247.26 L533.04,247.29 L534.17,247.30 L535.29,247.30 L536.41,247.28 L537.54,247.25 L538.66,247.19 L539.78,247.12 L540.91,247.03 L542.03,246.93 L543.16,246.80 L544.28,246.65 L545.40,246.49 L546.53,246.30 L547.65,246.10 L548.77,245.87 L549.90,245.62 L551.02,245.35 L552.14,245.05 L553.27,244.73 L554.39,244.39 L555.51,244.03 L556.64,243.64 L557.76,243.23 L558.88,242.79 L560.01,242.32 L561.13,241.83 L562.25,241.31 L563.38,240.76 L564.50,240.18 L565.62,239.57 L566.75,238.93 L567.87,238.26 L568.99,237.55 L570.12,236.81 L571.24,236.03 L572.36,235.21 L573.49,234.34 L574.61,233.44 L575.73,232.49 L576.86,231.49 L577.98,230.44 L579.10,229.34 L580.23,228.17 L581.35,226.95" fill="none" stroke="#9E480E" stroke-width="2.5" stroke-linecap="round" stroke-linejoin="round"/>
<path d="M425.20,317.40 L426.32,315.76 L427.45,314.13 L428.57,312.52 L429.69,310.92 L430.82,309.33 L431.94,307.76 L433.06,306.21 L434.19,304.67 L435.31,303.15 L436.43,301.65 L437.56,300.17 L438.68,298.71 L439.80,297.27 L440.93,295.85 L442.05,294.46 L443.17,293.08 L444.30,291.73 L445.42,290.40 L446.54,289.09 L447.67,287.81 L448.79,286.56 L449.91,285.33 L451.04,284.12 L452.16,282.94 L453.28,281.78 L454.41,280.66 L455.53,279.55 L456.65,278.48 L457.78,277.43 L458.90,276.41 L460.02,275.42 L461.15,274.45 L462.27,273.51 L463.39,272.60 L464.52,271.71 L465.64,270.85 L466.77,270.02 L467.89,269.22 L469.01,268.44 L470.14,267.69 L471.26,266.96 L472.38,266.27 L473.51,265.60 L474.63,264.95 L475.75,264.33 L476.88,263.74 L478.00,263.17 L479.12,262.62 L480.25,262.10 L481.37,261.60 L482.49,261.13 L483.62,260.68 L484.74,260.26 L485.86,259.85 L486.99,259.47 L488.11,259.11 L489.23,258.76 L490.36,258.44 L491.48,258.14 L492.60,257.86 L493.73,257.59 L494.85,257.35 L495.97,257.12 L497.10,256.91 L498.22,256.71 L499.34,256.53 L500.47,256.36 L501.59,256.21 L502.71,256.07 L503.84,255.95 L504.96,255.83 L506.08,255.73 L507.21,255.64 L508.33,255.56 L509.45,255.49 L510.58,255.42 L511.70,255.37 L512.82,255.32 L513.95,255.28 L515.07,255.25 L516.19,255.22 L517.32,255.20 L518.44,255.18 L519.56,255.16 L520.69,255.15 L521.81,255.14 L522.93,255.13 L524.06,255.13 L525.18,255.12 L526.30,255.12 L527.43,255.11 L528.55,255.11 L529.67,255.10 L530.80,255.09 L531.92,255.08 L533.04,255.07 L534.17,255.05 L535.29,255.03 L536.41,255.01 L537.54,254.98 L538.66,254.95 L539.78,254.91 L540.91,254.87 L542.03,254.82 L543.16,254.77 L544.28,254.71 L545.40,254.64 L546.53,254.57 L547.65,254.49 L548.77,254.40 L549.90,254.31 L551.02,254.21 L552.14,254.10 L553.27,253.98 L554.39,253.86 L555.51,253.72 L556.64,253.58 L557.76,253.43 L558.88,253.27 L560.01,253.11 L561.13,252.93 L562.25,252.75 L563.38,252.56 L564.50,252.35 L565.62,252.14 L566.75,251.92 L567.87,251.69 L568.99,251.45 L570.12,251.20 L571.24,250.94 L572.36,250.67 L573.49,250.39 L574.61,250.10 L575.73,249.79 L576.86,249.48 L577.98,249.15 L579.10,248.81 L580.23,248.45 L581.35,248.09" fill="none" stroke="#636363" stroke-width="2.5" stroke-linecap="round" stroke-linejoin="round"/>
<path d="M425.20,317.40 L426.32,313.62 L427.45,309.88 L428.57,306.18 L429.69,302.53 L430.82,298.92 L431.94,295.37 L433.06,291.86 L434.19,288.41 L435.31,285.01 L436.43,281.66 L437.56,278.37 L438.68,275.14 L439.80,271.97 L440.93,268.85 L442.05,265.80 L443.17,262.80 L444.30,259.87 L445.42,257.00 L446.54,254.19 L447.67,251.44 L448.79,248.76 L449.91,246.15 L451.04,243.59 L452.16,241.11 L453.28,238.69 L454.41,236.33 L455.53,234.04 L456.65,231.81 L457.78,229.65 L458.90,227.55 L460.02,225.51 L461.15,223.54 L462.27,221.64 L463.39,219.79 L464.52,218.01 L465.64,216.29 L466.77,214.64 L467.89,213.04 L469.01,211.50 L470.14,210.02 L471.26,208.60 L472.38,207.24 L473.51,205.93 L474.63,204.68 L475.75,203.48 L476.88,202.34 L478.00,201.25 L479.12,200.20 L480.25,199.21 L481.37,198.27 L482.49,197.37 L483.62,196.52 L484.74,195.72 L485.86,194.95 L486.99,194.23 L488.11,193.55 L489.23,192.91 L490.36,192.31 L491.48,191.74 L492.60,191.21 L493.73,190.72 L494.85,190.25 L495.97,189.82 L497.10,189.42 L498.22,189.05 L499.34,188.70 L500.47,188.38 L501.59,188.09 L502.71,187.82 L503.84,187.57 L504.96,187.34 L506.08,187.13 L507.21,186.95 L508.33,186.78 L509.45,186.62 L510.58,186.49 L511.70,186.37 L512.82,186.26 L513.95,186.16 L515.07,186.08 L516.19,186.01 L517.32,185.95 L518.44,185.90 L519.56,185.86 L520.69,185.83 L521.81,185.81 L522.93,185.79 L524.06,185.79 L525.18,185.79 L526.30,185.79 L527.43,185.80 L528.55,185.82 L529.67,185.84 L530.80,185.87 L531.92,185.91 L533.04,185.94 L534.17,185.99 L535.29,186.04 L536.41,186.09 L537.54,186.15 L538.66,186.21 L539.78,186.27 L540.91,186.35 L542.03,186.42 L543.16,186.50 L544.28,186.59 L545.40,186.67 L546.53,186.77 L547.65,186.87 L548.77,186.97 L549.90,187.07 L551.02,187.18 L552.14,187.30 L553.27,187.41 L554.39,187.53 L555.51,187.65 L556.64,187.77 L557.76,187.90 L558.88,188.02 L560.01,188.14 L561.13,188.26 L562.25,188.37 L563.38,188.48 L564.50,188.58 L565.62,188.67 L566.75,188.75 L567.87,188.81 L568.99,188.86 L570.12,188.89 L571.24,188.89 L572.36,188.86 L573.49,188.81 L574.61,188.71 L575.73,188.58 L576.86,188.40 L577.98,188.17 L579.10,187.87 L580.23,187.52 L581.35,187.09" fill="none" stroke="#997300" stroke-width="2.5" stroke-linecap="round" stroke-linejoin="round"/>
<line x1="425.2" y1="19.899999999999977" x2="425.2" y2="318.5" stroke="#000" stroke-width="2.2"/>
<line x1="424.09999999999997" y1="317.65" x2="635.8" y2="317.65" stroke="#000" stroke-width="2.4"/>
<text x="406.65" y="322.75" text-anchor="end" class="yt">0</text>
<text x="406.65" y="293.00" text-anchor="end" class="yt">20</text>
<text x="406.65" y="263.25" text-anchor="end" class="yt">40</text>
<text x="406.65" y="233.50" text-anchor="end" class="yt">60</text>
<text x="406.65" y="203.75" text-anchor="end" class="yt">80</text>
<text x="406.65" y="174.00" text-anchor="end" class="yt">100</text>
<text x="406.65" y="144.25" text-anchor="end" class="yt">120</text>
<text x="406.65" y="114.50" text-anchor="end" class="yt">140</text>
<text x="406.65" y="84.75" text-anchor="end" class="yt">160</text>
<text x="406.65" y="55.00" text-anchor="end" class="yt">180</text>
<text x="406.65" y="25.25" text-anchor="end" class="yt">200</text>
<text x="425.50" y="345.50" text-anchor="middle" class="xt">0</text>
<text x="477.90" y="345.50" text-anchor="middle" class="xt">0.05</text>
<text x="530.30" y="345.50" text-anchor="middle" class="xt">0.1</text>
<text x="582.70" y="345.50" text-anchor="middle" class="xt">0.15</text>
<text x="635.10" y="345.50" text-anchor="middle" class="xt">0.2</text>
<text x="530.00" y="370.40" text-anchor="middle" class="xl" textLength="121" lengthAdjust="spacingAndGlyphs">Strain (mm/mm)</text>
<text transform="translate(374.8,168.89999999999998) rotate(-90)" text-anchor="middle" class="yl" textLength="83.5" lengthAdjust="spacingAndGlyphs">Stress (MPa)</text>
<text x="424.6" y="426.80" text-anchor="middle" class="tag">[B]</text>
<line x1="619.8" y1="54.00" x2="650.8" y2="54.00" stroke="#4472C4" stroke-width="2.5" stroke-linecap="round"/>
<text x="654.4" y="58.55" class="lg" textLength="41.1" lengthAdjust="spacingAndGlyphs">Test 1</text>
<line x1="619.8" y1="81.12" x2="650.8" y2="81.12" stroke="#ED7D31" stroke-width="2.5" stroke-linecap="round"/>
<text x="654.4" y="85.67" class="lg" textLength="41.1" lengthAdjust="spacingAndGlyphs">Test 2</text>
<line x1="619.8" y1="108.24" x2="650.8" y2="108.24" stroke="#A5A5A5" stroke-width="2.5" stroke-linecap="round"/>
<text x="654.4" y="112.79" class="lg" textLength="41.1" lengthAdjust="spacingAndGlyphs">Test 3</text>
<line x1="619.8" y1="135.36" x2="650.8" y2="135.36" stroke="#FFC000" stroke-width="2.5" stroke-linecap="round"/>
<text x="654.4" y="139.91" class="lg" textLength="41.1" lengthAdjust="spacingAndGlyphs">Test 4</text>
<line x1="619.8" y1="162.48" x2="650.8" y2="162.48" stroke="#5B9BD5" stroke-width="2.5" stroke-linecap="round"/>
<text x="654.4" y="167.03" class="lg" textLength="41.1" lengthAdjust="spacingAndGlyphs">Test 5</text>
<line x1="619.8" y1="189.60" x2="650.8" y2="189.60" stroke="#70AD47" stroke-width="2.5" stroke-linecap="round"/>
<text x="654.4" y="194.15" class="lg" textLength="41.1" lengthAdjust="spacingAndGlyphs">Test 6</text>
<line x1="619.8" y1="216.72" x2="650.8" y2="216.72" stroke="#264478" stroke-width="2.5" stroke-linecap="round"/>
<text x="654.4" y="221.27" class="lg" textLength="41.1" lengthAdjust="spacingAndGlyphs">Test 7</text>
<line x1="619.8" y1="243.84" x2="650.8" y2="243.84" stroke="#9E480E" stroke-width="2.5" stroke-linecap="round"/>
<text x="654.4" y="248.39" class="lg" textLength="41.1" lengthAdjust="spacingAndGlyphs">Test 8</text>
<line x1="619.8" y1="270.96" x2="650.8" y2="270.96" stroke="#636363" stroke-width="2.5" stroke-linecap="round"/>
<text x="654.4" y="275.51" class="lg" textLength="41.1" lengthAdjust="spacingAndGlyphs">Test 9</text>
<line x1="619.8" y1="298.08" x2="650.8" y2="298.08" stroke="#997300" stroke-width="2.5" stroke-linecap="round"/>
<text x="654.4" y="302.63" class="lg" textLength="49.5" lengthAdjust="spacingAndGlyphs">Test 10</text>
<path d="M256.40,764.80 L257.63,763.09 L258.86,761.40 L260.09,759.73 L261.32,758.07 L262.55,756.43 L263.78,754.81 L265.02,753.20 L266.25,751.61 L267.48,750.04 L268.71,748.49 L269.94,746.96 L271.17,745.44 L272.40,743.95 L273.63,742.47 L274.86,741.01 L276.09,739.57 L277.32,738.15 L278.55,736.75 L279.78,735.37 L281.01,734.01 L282.25,732.67 L283.48,731.35 L284.71,730.05 L285.94,728.77 L287.17,727.51 L288.40,726.27 L289.63,725.05 L290.86,723.85 L292.09,722.67 L293.32,721.51 L294.55,720.37 L295.78,719.24 L297.01,718.14 L298.24,717.06 L299.48,716.00 L300.71,714.96 L301.94,713.93 L303.17,712.93 L304.40,711.94 L305.63,710.97 L306.86,710.03 L308.09,709.10 L309.32,708.19 L310.55,707.29 L311.78,706.42 L313.01,705.56 L314.24,704.72 L315.48,703.90 L316.71,703.10 L317.94,702.31 L319.17,701.54 L320.40,700.79 L321.63,700.05 L322.86,699.33 L324.09,698.63 L325.32,697.94 L326.55,697.27 L327.78,696.62 L329.01,695.98 L330.24,695.36 L331.47,694.76 L332.71,694.17 L333.94,693.59 L335.17,693.03 L336.40,692.49 L337.63,691.96 L338.86,691.45 L340.09,690.95 L341.32,690.47 L342.55,690.00 L343.78,689.55 L345.01,689.11 L346.24,688.69 L347.47,688.28 L348.70,687.89 L349.94,687.51 L351.17,687.15 L352.40,686.81 L353.63,686.48 L354.86,686.16 L356.09,685.87 L357.32,685.58 L358.55,685.32 L359.78,685.07 L361.01,684.83 L362.24,684.62 L363.47,684.42 L364.70,684.23 L365.94,684.07 L367.17,683.92 L368.40,683.79 L369.63,683.67 L370.86,683.58 L372.09,683.50 L373.32,683.44 L374.55,683.40 L375.78,683.37 L377.01,683.37 L378.24,683.39 L379.47,683.42 L380.70,683.48 L381.93,683.55 L383.17,683.65 L384.40,683.76 L385.63,683.90 L386.86,684.05 L388.09,684.23 L389.32,684.42 L390.55,684.64 L391.78,684.88 L393.01,685.13 L394.24,685.41 L395.47,685.71 L396.70,686.03 L397.93,686.36 L399.16,686.72 L400.40,687.10 L401.63,687.49 L402.86,687.90 L404.09,688.33 L405.32,688.78 L406.55,689.24 L407.78,689.72 L409.01,690.21 L410.24,690.72 L411.47,691.24 L412.70,691.77 L413.93,692.31 L415.16,692.85 L416.40,693.41 L417.63,693.96 L418.86,694.52 L420.09,695.08 L421.32,695.64 L422.55,696.20 L423.78,696.74 L425.01,697.28 L426.24,697.80 L427.47,698.31" fill="none" stroke="#4472C4" stroke-width="2.5" stroke-linecap="round" stroke-linejoin="round"/>
<path d="M256.40,764.80 L257.63,761.61 L258.86,758.47 L260.09,755.39 L261.32,752.38 L262.55,749.42 L263.78,746.52 L265.02,743.69 L266.25,740.92 L267.48,738.21 L268.71,735.56 L269.94,732.98 L271.17,730.47 L272.40,728.02 L273.63,725.63 L274.86,723.31 L276.09,721.06 L277.32,718.87 L278.55,716.75 L279.78,714.69 L281.01,712.70 L282.25,710.78 L283.48,708.92 L284.71,707.13 L285.94,705.40 L287.17,703.74 L288.40,702.14 L289.63,700.61 L290.86,699.14 L292.09,697.73 L293.32,696.39 L294.55,695.11 L295.78,693.89 L297.01,692.73 L298.24,691.63 L299.48,690.59 L300.71,689.61 L301.94,688.69 L303.17,687.82 L304.40,687.01 L305.63,686.25 L306.86,685.54 L308.09,684.89 L309.32,684.29 L310.55,683.74 L311.78,683.23 L313.01,682.78 L314.24,682.37 L315.48,682.00 L316.71,681.68 L317.94,681.40 L319.17,681.16 L320.40,680.96 L321.63,680.80 L322.86,680.67 L324.09,680.58 L325.32,680.53 L326.55,680.50 L327.78,680.51 L329.01,680.54 L330.24,680.61 L331.47,680.69 L332.71,680.81 L333.94,680.94 L335.17,681.10 L336.40,681.28 L337.63,681.47 L338.86,681.69 L340.09,681.91 L341.32,682.16 L342.55,682.41 L343.78,682.68 L345.01,682.95 L346.24,683.23 L347.47,683.52 L348.70,683.82 L349.94,684.12 L351.17,684.42 L352.40,684.72 L353.63,685.02 L354.86,685.32 L356.09,685.62 L357.32,685.92 L358.55,686.20 L359.78,686.49 L361.01,686.76 L362.24,687.03 L363.47,687.28 L364.70,687.53 L365.94,687.76 L367.17,687.98 L368.40,688.18 L369.63,688.37 L370.86,688.55 L372.09,688.70 L373.32,688.84 L374.55,688.96 L375.78,689.06 L377.01,689.14 L378.24,689.20 L379.47,689.24 L380.70,689.25 L381.93,689.24 L383.17,689.21 L384.40,689.15 L385.63,689.07 L386.86,688.96 L388.09,688.82 L389.32,688.66 L390.55,688.47 L391.78,688.24 L393.01,687.99 L394.24,687.71 L395.47,687.40 L396.70,687.05 L397.93,686.68 L399.16,686.26 L400.40,685.82 L401.63,685.34 L402.86,684.82 L404.09,684.27 L405.32,683.68 L406.55,683.05 L407.78,682.38 L409.01,681.67 L410.24,680.92 L411.47,680.12 L412.70,679.27 L413.93,678.38 L415.16,677.44 L416.40,676.45 L417.63,675.40 L418.86,674.30 L420.09,673.14 L421.32,671.92 L422.55,670.64 L423.78,669.29 L425.01,667.87 L426.24,666.38 L427.47,664.81" fill="none" stroke="#ED7D31" stroke-width="2.5" stroke-linecap="round" stroke-linejoin="round"/>
<path d="M256.40,764.80 L257.63,761.41 L258.86,758.07 L260.09,754.78 L261.32,751.54 L262.55,748.36 L263.78,745.23 L265.02,742.16 L266.25,739.15 L267.48,736.19 L268.71,733.30 L269.94,730.47 L271.17,727.70 L272.40,724.99 L273.63,722.35 L274.86,719.77 L276.09,717.26 L277.32,714.81 L278.55,712.43 L279.78,710.11 L281.01,707.87 L282.25,705.69 L283.48,703.57 L284.71,701.53 L285.94,699.55 L287.17,697.64 L288.40,695.80 L289.63,694.03 L290.86,692.32 L292.09,690.68 L293.32,689.11 L294.55,687.60 L295.78,686.17 L297.01,684.79 L298.24,683.48 L299.48,682.24 L300.71,681.06 L301.94,679.94 L303.17,678.88 L304.40,677.89 L305.63,676.96 L306.86,676.08 L308.09,675.26 L309.32,674.51 L310.55,673.80 L311.78,673.15 L313.01,672.56 L314.24,672.02 L315.48,671.53 L316.71,671.09 L317.94,670.69 L319.17,670.35 L320.40,670.05 L321.63,669.79 L322.86,669.58 L324.09,669.40 L325.32,669.27 L326.55,669.18 L327.78,669.12 L329.01,669.09 L330.24,669.10 L331.47,669.14 L332.71,669.21 L333.94,669.31 L335.17,669.44 L336.40,669.59 L337.63,669.76 L338.86,669.95 L340.09,670.17 L341.32,670.40 L342.55,670.64 L343.78,670.91 L345.01,671.18 L346.24,671.47 L347.47,671.77 L348.70,672.07 L349.94,672.38 L351.17,672.70 L352.40,673.02 L353.63,673.34 L354.86,673.66 L356.09,673.99 L357.32,674.30 L358.55,674.62 L359.78,674.93 L361.01,675.23 L362.24,675.53 L363.47,675.82 L364.70,676.09 L365.94,676.36 L367.17,676.61 L368.40,676.85 L369.63,677.08 L370.86,677.29 L372.09,677.48 L373.32,677.65 L374.55,677.81 L375.78,677.94 L377.01,678.06 L378.24,678.16 L379.47,678.23 L380.70,678.28 L381.93,678.31 L383.17,678.31 L384.40,678.29 L385.63,678.25 L386.86,678.18 L388.09,678.08 L389.32,677.96 L390.55,677.81 L391.78,677.63 L393.01,677.43 L394.24,677.19 L395.47,676.93 L396.70,676.64 L397.93,676.32 L399.16,675.97 L400.40,675.59 L401.63,675.18 L402.86,674.73 L404.09,674.26 L405.32,673.75 L406.55,673.21 L407.78,672.64 L409.01,672.03 L410.24,671.38 L411.47,670.70 L412.70,669.99 L413.93,669.23 L415.16,668.44 L416.40,667.60 L417.63,666.73 L418.86,665.81 L420.09,664.84 L421.32,663.83 L422.55,662.77 L423.78,661.66 L425.01,660.49 L426.24,659.27 L427.47,657.99" fill="none" stroke="#A5A5A5" stroke-width="2.5" stroke-linecap="round" stroke-linejoin="round"/>
<path d="M256.40,764.80 L257.63,761.60 L258.86,758.47 L260.09,755.41 L261.32,752.41 L262.55,749.48 L263.78,746.61 L265.02,743.82 L266.25,741.09 L267.48,738.43 L268.71,735.84 L269.94,733.32 L271.17,730.86 L272.40,728.48 L273.63,726.16 L274.86,723.91 L276.09,721.72 L277.32,719.61 L278.55,717.56 L279.78,715.58 L281.01,713.66 L282.25,711.81 L283.48,710.03 L284.71,708.31 L285.94,706.66 L287.17,705.07 L288.40,703.54 L289.63,702.07 L290.86,700.67 L292.09,699.33 L293.32,698.05 L294.55,696.82 L295.78,695.66 L297.01,694.55 L298.24,693.50 L299.48,692.51 L300.71,691.57 L301.94,690.68 L303.17,689.85 L304.40,689.07 L305.63,688.34 L306.86,687.65 L308.09,687.02 L309.32,686.43 L310.55,685.89 L311.78,685.39 L313.01,684.94 L314.24,684.52 L315.48,684.15 L316.71,683.82 L317.94,683.52 L319.17,683.26 L320.40,683.04 L321.63,682.85 L322.86,682.69 L324.09,682.57 L325.32,682.47 L326.55,682.40 L327.78,682.36 L329.01,682.35 L330.24,682.35 L331.47,682.39 L332.71,682.44 L333.94,682.51 L335.17,682.60 L336.40,682.71 L337.63,682.84 L338.86,682.97 L340.09,683.13 L341.32,683.29 L342.55,683.47 L343.78,683.65 L345.01,683.84 L346.24,684.04 L347.47,684.25 L348.70,684.46 L349.94,684.67 L351.17,684.89 L352.40,685.11 L353.63,685.32 L354.86,685.54 L356.09,685.75 L357.32,685.96 L358.55,686.17 L359.78,686.37 L361.01,686.56 L362.24,686.75 L363.47,686.92 L364.70,687.09 L365.94,687.25 L367.17,687.40 L368.40,687.54 L369.63,687.67 L370.86,687.78 L372.09,687.88 L373.32,687.97 L374.55,688.04 L375.78,688.09 L377.01,688.13 L378.24,688.15 L379.47,688.16 L380.70,688.14 L381.93,688.11 L383.17,688.06 L384.40,687.99 L385.63,687.90 L386.86,687.79 L388.09,687.65 L389.32,687.50 L390.55,687.32 L391.78,687.12 L393.01,686.90 L394.24,686.66 L395.47,686.39 L396.70,686.09 L397.93,685.77 L399.16,685.42 L400.40,685.05 L401.63,684.65 L402.86,684.22 L404.09,683.76 L405.32,683.27 L406.55,682.74 L407.78,682.19 L409.01,681.60 L410.24,680.98 L411.47,680.32 L412.70,679.63 L413.93,678.89 L415.16,678.12 L416.40,677.30 L417.63,676.44 L418.86,675.53 L420.09,674.57 L421.32,673.57 L422.55,672.50 L423.78,671.39 L425.01,670.21 L426.24,668.97 L427.47,667.66" fill="none" stroke="#FFC000" stroke-width="2.5" stroke-linecap="round" stroke-linejoin="round"/>
<path d="M256.40,764.80 L257.63,760.28 L258.86,755.86 L260.09,751.55 L261.32,747.34 L262.55,743.23 L263.78,739.22 L265.02,735.31 L266.25,731.50 L267.48,727.79 L268.71,724.18 L269.94,720.68 L271.17,717.27 L272.40,713.95 L273.63,710.74 L274.86,707.63 L276.09,704.61 L277.32,701.68 L278.55,698.85 L279.78,696.12 L281.01,693.48 L282.25,690.93 L283.48,688.48 L284.71,686.11 L285.94,683.84 L287.17,681.65 L288.40,679.56 L289.63,677.55 L290.86,675.63 L292.09,673.79 L293.32,672.03 L294.55,670.36 L295.78,668.77 L297.01,667.26 L298.24,665.83 L299.48,664.47 L300.71,663.20 L301.94,661.99 L303.17,660.86 L304.40,659.81 L305.63,658.82 L306.86,657.90 L308.09,657.05 L309.32,656.26 L310.55,655.54 L311.78,654.89 L313.01,654.29 L314.24,653.75 L315.48,653.27 L316.71,652.85 L317.94,652.48 L319.17,652.16 L320.40,651.89 L321.63,651.67 L322.86,651.50 L324.09,651.38 L325.32,651.30 L326.55,651.26 L327.78,651.26 L329.01,651.30 L330.24,651.37 L331.47,651.48 L332.71,651.62 L333.94,651.80 L335.17,652.00 L336.40,652.23 L337.63,652.48 L338.86,652.76 L340.09,653.06 L341.32,653.37 L342.55,653.71 L343.78,654.06 L345.01,654.43 L346.24,654.81 L347.47,655.19 L348.70,655.59 L349.94,655.99 L351.17,656.40 L352.40,656.81 L353.63,657.23 L354.86,657.64 L356.09,658.05 L357.32,658.46 L358.55,658.86 L359.78,659.26 L361.01,659.65 L362.24,660.02 L363.47,660.39 L364.70,660.74 L365.94,661.08 L367.17,661.40 L368.40,661.70 L369.63,661.98 L370.86,662.25 L372.09,662.49 L373.32,662.71 L374.55,662.90 L375.78,663.07 L377.01,663.21 L378.24,663.32 L379.47,663.40 L380.70,663.45 L381.93,663.46 L383.17,663.44 L384.40,663.39 L385.63,663.31 L386.86,663.18 L388.09,663.02 L389.32,662.82 L390.55,662.57 L391.78,662.29 L393.01,661.96 L394.24,661.59 L395.47,661.18 L396.70,660.72 L397.93,660.21 L399.16,659.66 L400.40,659.06 L401.63,658.41 L402.86,657.70 L404.09,656.95 L405.32,656.14 L406.55,655.28 L407.78,654.36 L409.01,653.39 L410.24,652.36 L411.47,651.27 L412.70,650.12 L413.93,648.91 L415.16,647.64 L416.40,646.30 L417.63,644.90 L418.86,643.43 L420.09,641.89 L421.32,640.28 L422.55,638.60 L423.78,636.84 L425.01,635.01 L426.24,633.09 L427.47,631.10" fill="none" stroke="#5B9BD5" stroke-width="2.5" stroke-linecap="round" stroke-linejoin="round"/>
<path d="M256.40,764.80 L257.63,761.31 L258.86,757.87 L260.09,754.49 L261.32,751.18 L262.55,747.94 L263.78,744.76 L265.02,741.65 L266.25,738.62 L267.48,735.66 L268.71,732.78 L269.94,729.97 L271.17,727.25 L272.40,724.60 L273.63,722.04 L274.86,719.56 L276.09,717.17 L277.32,714.86 L278.55,712.63 L279.78,710.49 L281.01,708.44 L282.25,706.47 L283.48,704.59 L284.71,702.80 L285.94,701.09 L287.17,699.47 L288.40,697.93 L289.63,696.48 L290.86,695.11 L292.09,693.82 L293.32,692.62 L294.55,691.49 L295.78,690.45 L297.01,689.48 L298.24,688.59 L299.48,687.78 L300.71,687.04 L301.94,686.37 L303.17,685.77 L304.40,685.24 L305.63,684.77 L306.86,684.37 L308.09,684.03 L309.32,683.75 L310.55,683.52 L311.78,683.35 L313.01,683.23 L314.24,683.16 L315.48,683.13 L316.71,683.15 L317.94,683.21 L319.17,683.31 L320.40,683.44 L321.63,683.60 L322.86,683.80 L324.09,684.02 L325.32,684.27 L326.55,684.53 L327.78,684.82 L329.01,685.12 L330.24,685.43 L331.47,685.75 L332.71,686.08 L333.94,686.42 L335.17,686.75 L336.40,687.09 L337.63,687.41 L338.86,687.74 L340.09,688.05 L341.32,688.35 L342.55,688.64 L343.78,688.91 L345.01,689.16 L346.24,689.39 L347.47,689.59 L348.70,689.77 L349.94,689.92 L351.17,690.04 L352.40,690.13 L353.63,690.19 L354.86,690.21 L356.09,690.19 L357.32,690.13 L358.55,690.04 L359.78,689.90 L361.01,689.72 L362.24,689.50 L363.47,689.22 L364.70,688.91 L365.94,688.54 L367.17,688.13 L368.40,687.67 L369.63,687.16 L370.86,686.59 L372.09,685.98 L373.32,685.31 L374.55,684.59 L375.78,683.81 L377.01,682.98 L378.24,682.10 L379.47,681.16 L380.70,680.17 L381.93,679.11 L383.17,678.01 L384.40,676.84 L385.63,675.61 L386.86,674.32 L388.09,672.98 L389.32,671.57 L390.55,670.09 L391.78,668.56 L393.01,666.95 L394.24,665.28 L395.47,663.54 L396.70,661.72 L397.93,659.83 L399.16,657.87 L400.40,655.82 L401.63,653.68 L402.86,651.46 L404.09,649.14 L405.32,646.73 L406.55,644.21 L407.78,641.58 L409.01,638.84 L410.24,635.97 L411.47,632.97 L412.70,629.83 L413.93,626.54 L415.16,623.09 L416.40,619.47 L417.63,615.67 L418.86,611.68 L420.09,607.47 L421.32,603.05 L422.55,598.38 L423.78,593.45 L425.01,588.25 L426.24,582.75 L427.47,576.94" fill="none" stroke="#70AD47" stroke-width="2.5" stroke-linecap="round" stroke-linejoin="round"/>
<path d="M256.40,764.80 L257.63,761.89 L258.86,759.03 L260.09,756.23 L261.32,753.48 L262.55,750.78 L263.78,748.15 L265.02,745.57 L266.25,743.04 L267.48,740.58 L268.71,738.17 L269.94,735.83 L271.17,733.54 L272.40,731.31 L273.63,729.14 L274.86,727.03 L276.09,724.97 L277.32,722.98 L278.55,721.05 L279.78,719.18 L281.01,717.36 L282.25,715.61 L283.48,713.91 L284.71,712.28 L285.94,710.70 L287.17,709.18 L288.40,707.72 L289.63,706.31 L290.86,704.96 L292.09,703.67 L293.32,702.44 L294.55,701.26 L295.78,700.13 L297.01,699.06 L298.24,698.04 L299.48,697.07 L300.71,696.15 L301.94,695.29 L303.17,694.47 L304.40,693.70 L305.63,692.98 L306.86,692.31 L308.09,691.69 L309.32,691.10 L310.55,690.57 L311.78,690.07 L313.01,689.62 L314.24,689.21 L315.48,688.83 L316.71,688.50 L317.94,688.20 L319.17,687.94 L320.40,687.71 L321.63,687.51 L322.86,687.35 L324.09,687.22 L325.32,687.12 L326.55,687.05 L327.78,687.00 L329.01,686.98 L330.24,686.98 L331.47,687.01 L332.71,687.06 L333.94,687.13 L335.17,687.22 L336.40,687.33 L337.63,687.45 L338.86,687.59 L340.09,687.74 L341.32,687.91 L342.55,688.09 L343.78,688.27 L345.01,688.47 L346.24,688.68 L347.47,688.89 L348.70,689.10 L349.94,689.33 L351.17,689.55 L352.40,689.78 L353.63,690.00 L354.86,690.23 L356.09,690.46 L357.32,690.68 L358.55,690.90 L359.78,691.12 L361.01,691.33 L362.24,691.53 L363.47,691.73 L364.70,691.92 L365.94,692.10 L367.17,692.27 L368.40,692.43 L369.63,692.58 L370.86,692.71 L372.09,692.84 L373.32,692.95 L374.55,693.04 L375.78,693.12 L377.01,693.18 L378.24,693.23 L379.47,693.26 L380.70,693.28 L381.93,693.27 L383.17,693.25 L384.40,693.20 L385.63,693.14 L386.86,693.06 L388.09,692.96 L389.32,692.84 L390.55,692.69 L391.78,692.53 L393.01,692.34 L394.24,692.13 L395.47,691.90 L396.70,691.64 L397.93,691.36 L399.16,691.06 L400.40,690.73 L401.63,690.38 L402.86,690.00 L404.09,689.60 L405.32,689.17 L406.55,688.71 L407.78,688.23 L409.01,687.72 L410.24,687.18 L411.47,686.62 L412.70,686.02 L413.93,685.40 L415.16,684.74 L416.40,684.05 L417.63,683.33 L418.86,682.58 L420.09,681.79 L421.32,680.96 L422.55,680.10 L423.78,679.20 L425.01,678.26 L426.24,677.28 L427.47,676.25" fill="none" stroke="#264478" stroke-width="2.5" stroke-linecap="round" stroke-linejoin="round"/>
<path d="M256.40,764.80 L257.59,761.33 L258.79,757.91 L259.98,754.54 L261.18,751.22 L262.37,747.95 L263.57,744.74 L264.76,741.57 L265.96,738.46 L267.15,735.39 L268.35,732.38 L269.54,729.42 L270.73,726.50 L271.93,723.64 L273.12,720.83 L274.32,718.07 L275.51,715.36 L276.71,712.69 L277.90,710.08 L279.10,707.52 L280.29,705.01 L281.49,702.54 L282.68,700.12 L283.88,697.76 L285.07,695.44 L286.26,693.17 L287.46,690.95 L288.65,688.77 L289.85,686.64 L291.04,684.56 L292.24,682.53 L293.43,680.54 L294.63,678.60 L295.82,676.71 L297.02,674.86 L298.21,673.06 L299.40,671.30 L300.60,669.58 L301.79,667.91 L302.99,666.29 L304.18,664.70 L305.38,663.16 L306.57,661.67 L307.77,660.21 L308.96,658.80 L310.16,657.43 L311.35,656.09 L312.55,654.80 L313.74,653.55 L314.93,652.34 L316.13,651.17 L317.32,650.03 L318.52,648.94 L319.71,647.88 L320.91,646.85 L322.10,645.87 L323.30,644.92 L324.49,644.00 L325.69,643.12 L326.88,642.27 L328.07,641.46 L329.27,640.68 L330.46,639.93 L331.66,639.21 L332.85,638.52 L334.05,637.87 L335.24,637.24 L336.44,636.64 L337.63,636.07 L338.83,635.52 L340.02,635.01 L341.22,634.52 L342.41,634.05 L343.60,633.61 L344.80,633.19 L345.99,632.80 L347.19,632.43 L348.38,632.08 L349.58,631.75 L350.77,631.44 L351.97,631.15 L353.16,630.88 L354.36,630.63 L355.55,630.39 L356.74,630.17 L357.94,629.97 L359.13,629.78 L360.33,629.60 L361.52,629.44 L362.72,629.29 L363.91,629.15 L365.11,629.02 L366.30,628.91 L367.50,628.80 L368.69,628.70 L369.89,628.61 L371.08,628.52 L372.27,628.44 L373.47,628.37 L374.66,628.30 L375.86,628.24 L377.05,628.18 L378.25,628.12 L379.44,628.07 L380.64,628.02 L381.83,627.97 L383.03,627.91 L384.22,627.86 L385.41,627.81 L386.61,627.76 L387.80,627.70 L389.00,627.64 L390.19,627.58 L391.39,627.52 L392.58,627.45 L393.78,627.38 L394.97,627.31 L396.17,627.23 L397.36,627.15 L398.56,627.06 L399.75,626.97 L400.94,626.87 L402.14,626.77 L403.33,626.66 L404.53,626.55 L405.72,626.44 L406.92,626.32 L408.11,626.20 L409.31,626.07 L410.50,625.94 L411.70,625.81 L412.89,625.68 L414.08,625.55 L415.28,625.41 L416.47,625.28 L417.67,625.15 L418.86,625.03 L420.06,624.90 L421.25,624.78 L422.45,624.67" fill="none" stroke="#9E480E" stroke-width="2.5" stroke-linecap="round" stroke-linejoin="round"/>
<path d="M256.40,764.80 L257.59,758.81 L258.79,752.98 L259.98,747.29 L261.18,741.74 L262.37,736.34 L263.57,731.09 L264.76,725.97 L265.96,721.00 L267.15,716.16 L268.35,711.46 L269.54,706.90 L270.73,702.47 L271.93,698.17 L273.12,694.00 L274.32,689.96 L275.51,686.05 L276.71,682.26 L277.90,678.60 L279.10,675.06 L280.29,671.64 L281.49,668.33 L282.68,665.15 L283.88,662.08 L285.07,659.13 L286.26,656.28 L287.46,653.55 L288.65,650.93 L289.85,648.41 L291.04,646.01 L292.24,643.70 L293.43,641.50 L294.63,639.40 L295.82,637.39 L297.02,635.49 L298.21,633.68 L299.40,631.96 L300.60,630.34 L301.79,628.81 L302.99,627.36 L304.18,626.00 L305.38,624.73 L306.57,623.54 L307.77,622.44 L308.96,621.41 L310.16,620.46 L311.35,619.59 L312.55,618.79 L313.74,618.07 L314.93,617.41 L316.13,616.83 L317.32,616.31 L318.52,615.85 L319.71,615.46 L320.91,615.14 L322.10,614.87 L323.30,614.65 L324.49,614.50 L325.69,614.39 L326.88,614.34 L328.07,614.34 L329.27,614.39 L330.46,614.48 L331.66,614.61 L332.85,614.79 L334.05,615.00 L335.24,615.25 L336.44,615.54 L337.63,615.86 L338.83,616.22 L340.02,616.60 L341.22,617.00 L342.41,617.43 L343.60,617.89 L344.80,618.36 L345.99,618.85 L347.19,619.36 L348.38,619.88 L349.58,620.42 L350.77,620.96 L351.97,621.51 L353.16,622.06 L354.36,622.62 L355.55,623.17 L356.74,623.73 L357.94,624.28 L359.13,624.82 L360.33,625.36 L361.52,625.88 L362.72,626.39 L363.91,626.89 L365.11,627.37 L366.30,627.83 L367.50,628.26 L368.69,628.68 L369.89,629.06 L371.08,629.42 L372.27,629.75 L373.47,630.05 L374.66,630.31 L375.86,630.54 L377.05,630.72 L378.25,630.87 L379.44,630.97 L380.64,631.03 L381.83,631.05 L383.03,631.02 L384.22,630.94 L385.41,630.80 L386.61,630.62 L387.80,630.38 L389.00,630.09 L390.19,629.74 L391.39,629.33 L392.58,628.87 L393.78,628.34 L394.97,627.75 L396.17,627.10 L397.36,626.39 L398.56,625.62 L399.75,624.78 L400.94,623.88 L402.14,622.92 L403.33,621.89 L404.53,620.79 L405.72,619.63 L406.92,618.41 L408.11,617.13 L409.31,615.78 L410.50,614.37 L411.70,612.91 L412.89,611.38 L414.08,609.80 L415.28,608.16 L416.47,606.46 L417.67,604.72 L418.86,602.92 L420.06,601.08 L421.25,599.20 L422.45,597.28" fill="none" stroke="#636363" stroke-width="2.5" stroke-linecap="round" stroke-linejoin="round"/>
<path d="M256.40,764.80 L257.59,761.81 L258.79,758.85 L259.98,755.94 L261.18,753.07 L262.37,750.23 L263.57,747.44 L264.76,744.70 L265.96,741.99 L267.15,739.33 L268.35,736.72 L269.54,734.15 L270.73,731.62 L271.93,729.14 L273.12,726.71 L274.32,724.32 L275.51,721.98 L276.71,719.68 L277.90,717.44 L279.10,715.23 L280.29,713.08 L281.49,710.97 L282.68,708.91 L283.88,706.90 L285.07,704.94 L286.26,703.02 L287.46,701.14 L288.65,699.32 L289.85,697.54 L291.04,695.81 L292.24,694.12 L293.43,692.48 L294.63,690.88 L295.82,689.33 L297.02,687.82 L298.21,686.36 L299.40,684.94 L300.60,683.56 L301.79,682.22 L302.99,680.93 L304.18,679.68 L305.38,678.47 L306.57,677.29 L307.77,676.16 L308.96,675.07 L310.16,674.01 L311.35,672.99 L312.55,672.01 L313.74,671.06 L314.93,670.14 L316.13,669.27 L317.32,668.42 L318.52,667.61 L319.71,666.82 L320.91,666.07 L322.10,665.35 L323.30,664.66 L324.49,663.99 L325.69,663.35 L326.88,662.74 L328.07,662.15 L329.27,661.59 L330.46,661.05 L331.66,660.54 L332.85,660.04 L334.05,659.57 L335.24,659.11 L336.44,658.68 L337.63,658.26 L338.83,657.86 L340.02,657.48 L341.22,657.12 L342.41,656.76 L343.60,656.43 L344.80,656.10 L345.99,655.79 L347.19,655.49 L348.38,655.20 L349.58,654.92 L350.77,654.65 L351.97,654.39 L353.16,654.14 L354.36,653.90 L355.55,653.66 L356.74,653.42 L357.94,653.20 L359.13,652.98 L360.33,652.76 L361.52,652.54 L362.72,652.33 L363.91,652.13 L365.11,651.92 L366.30,651.72 L367.50,651.51 L368.69,651.31 L369.89,651.11 L371.08,650.91 L372.27,650.71 L373.47,650.50 L374.66,650.30 L375.86,650.09 L377.05,649.88 L378.25,649.67 L379.44,649.46 L380.64,649.24 L381.83,649.02 L383.03,648.80 L384.22,648.57 L385.41,648.33 L386.61,648.09 L387.80,647.85 L389.00,647.60 L390.19,647.34 L391.39,647.08 L392.58,646.80 L393.78,646.52 L394.97,646.23 L396.17,645.93 L397.36,645.62 L398.56,645.30 L399.75,644.97 L400.94,644.62 L402.14,644.26 L403.33,643.89 L404.53,643.50 L405.72,643.09 L406.92,642.66 L408.11,642.21 L409.31,641.74 L410.50,641.25 L411.70,640.73 L412.89,640.18 L414.08,639.61 L415.28,639.00 L416.47,638.35 L417.67,637.67 L418.86,636.95 L420.06,636.18 L421.25,635.36 L422.45,634.50" fill="none" stroke="#997300" stroke-width="2.5" stroke-linecap="round" stroke-linejoin="round"/>
<line x1="256.4" y1="467.29999999999995" x2="256.4" y2="765.9" stroke="#000" stroke-width="2.2"/>
<line x1="255.29999999999998" y1="765.05" x2="486.6" y2="765.05" stroke="#000" stroke-width="2.4"/>
<text x="238.25" y="770.15" text-anchor="end" class="yt">0</text>
<text x="238.25" y="740.40" text-anchor="end" class="yt">20</text>
<text x="238.25" y="710.65" text-anchor="end" class="yt">40</text>
<text x="238.25" y="680.90" text-anchor="end" class="yt">60</text>
<text x="238.25" y="651.15" text-anchor="end" class="yt">80</text>
<text x="238.25" y="621.40" text-anchor="end" class="yt">100</text>
<text x="238.25" y="591.65" text-anchor="end" class="yt">120</text>
<text x="238.25" y="561.90" text-anchor="end" class="yt">140</text>
<text x="238.25" y="532.15" text-anchor="end" class="yt">160</text>
<text x="238.25" y="502.40" text-anchor="end" class="yt">180</text>
<text x="238.25" y="472.65" text-anchor="end" class="yt">200</text>
<text x="256.70" y="792.90" text-anchor="middle" class="xt">0</text>
<text x="314.00" y="792.90" text-anchor="middle" class="xt">0.05</text>
<text x="371.30" y="792.90" text-anchor="middle" class="xt">0.1</text>
<text x="428.60" y="792.90" text-anchor="middle" class="xt">0.15</text>
<text x="485.90" y="792.90" text-anchor="middle" class="xt">0.2</text>
<text x="370.50" y="817.80" text-anchor="middle" class="xl" textLength="121" lengthAdjust="spacingAndGlyphs">Strain (mm/mm)</text>
<text transform="translate(199.9,616.3) rotate(-90)" text-anchor="middle" class="yl" textLength="83.5" lengthAdjust="spacingAndGlyphs">Stress (MPa)</text>
<text x="364.5" y="874.20" text-anchor="middle" class="tag" textLength="21.3" lengthAdjust="spacingAndGlyphs">[C]</text>
<line x1="465.4" y1="486.10" x2="496.4" y2="486.10" stroke="#4472C4" stroke-width="2.5" stroke-linecap="round"/>
<text x="500.0" y="490.65" class="lg" textLength="41.1" lengthAdjust="spacingAndGlyphs">Test 1</text>
<line x1="465.4" y1="513.22" x2="496.4" y2="513.22" stroke="#ED7D31" stroke-width="2.5" stroke-linecap="round"/>
<text x="500.0" y="517.77" class="lg" textLength="41.1" lengthAdjust="spacingAndGlyphs">Test 2</text>
<line x1="465.4" y1="540.34" x2="496.4" y2="540.34" stroke="#A5A5A5" stroke-width="2.5" stroke-linecap="round"/>
<text x="500.0" y="544.89" class="lg" textLength="41.1" lengthAdjust="spacingAndGlyphs">Test 3</text>
<line x1="465.4" y1="567.46" x2="496.4" y2="567.46" stroke="#FFC000" stroke-width="2.5" stroke-linecap="round"/>
<text x="500.0" y="572.01" class="lg" textLength="41.1" lengthAdjust="spacingAndGlyphs">Test 4</text>
<line x1="465.4" y1="594.58" x2="496.4" y2="594.58" stroke="#5B9BD5" stroke-width="2.5" stroke-linecap="round"/>
<text x="500.0" y="599.13" class="lg" textLength="41.1" lengthAdjust="spacingAndGlyphs">Test 5</text>
<line x1="465.4" y1="621.70" x2="496.4" y2="621.70" stroke="#70AD47" stroke-width="2.5" stroke-linecap="round"/>
<text x="500.0" y="626.25" class="lg" textLength="41.1" lengthAdjust="spacingAndGlyphs">Test 6</text>
<line x1="465.4" y1="648.82" x2="496.4" y2="648.82" stroke="#264478" stroke-width="2.5" stroke-linecap="round"/>
<text x="500.0" y="653.37" class="lg" textLength="41.1" lengthAdjust="spacingAndGlyphs">Test 7</text>
<line x1="465.4" y1="675.94" x2="496.4" y2="675.94" stroke="#9E480E" stroke-width="2.5" stroke-linecap="round"/>
<text x="500.0" y="680.49" class="lg" textLength="41.1" lengthAdjust="spacingAndGlyphs">Test 8</text>
<line x1="465.4" y1="703.06" x2="496.4" y2="703.06" stroke="#636363" stroke-width="2.5" stroke-linecap="round"/>
<text x="500.0" y="707.61" class="lg" textLength="41.1" lengthAdjust="spacingAndGlyphs">Test 9</text>
<line x1="465.4" y1="730.18" x2="496.4" y2="730.18" stroke="#997300" stroke-width="2.5" stroke-linecap="round"/>
<text x="500.0" y="734.73" class="lg" textLength="49.5" lengthAdjust="spacingAndGlyphs">Test 10</text>
</svg>
</body></html>
